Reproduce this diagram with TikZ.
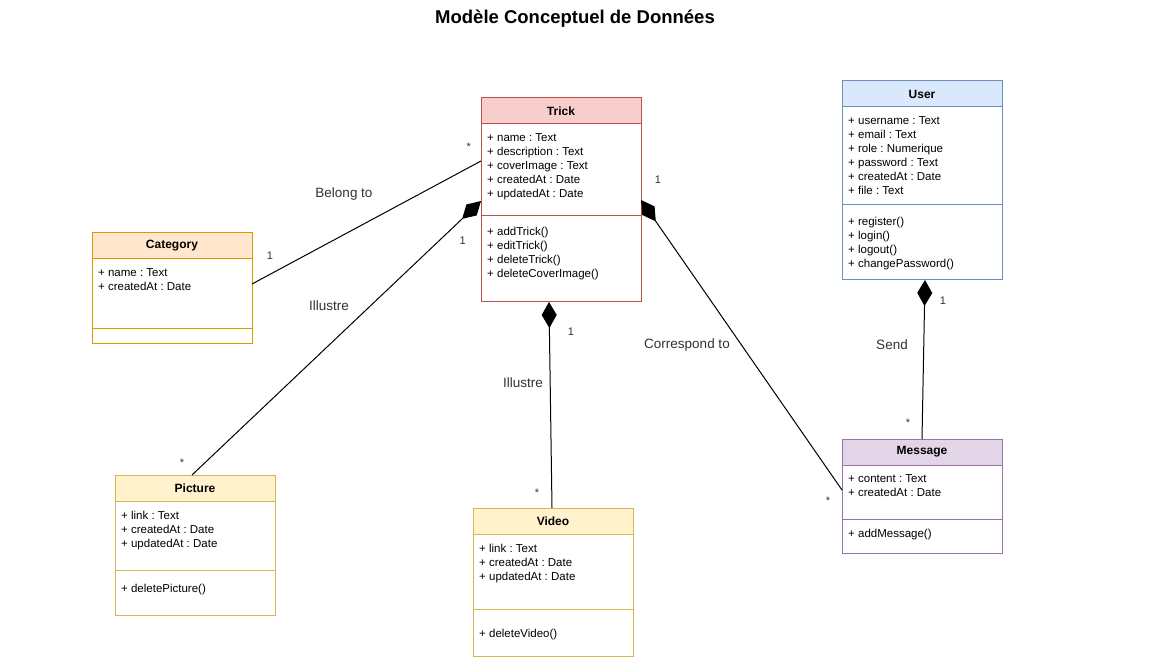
\documentclass[tikz,border=0pt]{standalone}
\usepackage{fontspec}
\setmainfont{Liberation Sans}
\usetikzlibrary{arrows.meta,calc}
\frenchspacing
\definecolor{trickF}{HTML}{F8CECC}\definecolor{trickD}{HTML}{B85450}
\definecolor{userF}{HTML}{DAE8FC}\definecolor{userD}{HTML}{6C8EBF}
\definecolor{catF}{HTML}{FFE6CC}\definecolor{catD}{HTML}{D79B00}
\definecolor{yelF}{HTML}{FFF2CC}\definecolor{yelD}{HTML}{D6B656}
\definecolor{msgF}{HTML}{E1D5E7}\definecolor{msgD}{HTML}{9673A6}
\definecolor{lblC}{HTML}{333333}
\tikzset{
  lbl/.style={font=\fontsize{13.5}{16}\selectfont, text=lblC, inner sep=0},
  mult/.style={font=\fontsize{11}{13}\selectfont, text=lblC, inner sep=0},
  hdr/.style={font=\bfseries\fontsize{12}{14}\selectfont, inner sep=0},
  attr/.style={font=\fontsize{11.5}{14}\selectfont, align=left, anchor=north west, inner sep=0},
  rel/.style={line width=1pt, draw=black},
  comp/.style={rel, {Diamond[length=26pt,width=15pt]}-},
  titlestyle/.style={font=\bfseries\fontsize{18.5}{22}\selectfont, inner sep=0},
}
% #1 name, #2 x, #3 y, #4 height, #5 divider offset, #6 colour, #7 title, #8 attributes
\newcommand{\umlclass}[8]{%
  \node[anchor=north west, minimum width=160pt, minimum height=#4pt, inner sep=0, outer sep=0] (#1) at (#2,#3) {};
  \fill[#6F] (#2,#3) rectangle (#2+160,#3+26);
  \draw[#6D, line width=1pt] (#2,#3+26) -- (#2+160,#3+26);
  \draw[#6D, line width=1pt] (#2,#3+#5) -- (#2+160,#3+#5);
  \draw[#6D, line width=1pt] (#2,#3) rectangle (#2+160,#3+#4);
  \node[hdr] (#1-t) at (#2+80,#3+13) {#7};
  \node[attr] (#1-a) at (#2+6,#3+35.5) {#8};
}
\begin{document}
\frenchspacing
\begin{tikzpicture}[x=1pt,y=-1pt]
\path[use as bounding box, fill=white] (0,0) rectangle (1151,660);
\node[titlestyle] (title) at (575,19) {Modèle Conceptuel de Données};

\umlclass{trick}{481}{98}{204}{117.5}{trick}{Trick}{+ name : Text\\+ description : Text\\+ coverImage : Text\\+ createdAt : Date\\+ updatedAt : Date}
\node[attr] (trick-m) at (487,227) {+ addTrick()\\+ editTrick()\\+ deleteTrick()\\+ deleteCoverImage()};

\umlclass{user}{842}{81}{199}{124}{user}{User}{+ username : Text\\+ email : Text\\+ role : Numerique\\+ password : Text\\+ createdAt : Date\\+ file : Text}
\node[attr] (user-m) at (848,216.7) {+ register()\\+ login()\\+ logout()\\+ changePassword()};

\umlclass{cat}{92}{233}{110}{95.7}{cat}{Category}{+ name : Text\\+ createdAt : Date}

\umlclass{pic}{115}{475}{140}{95.7}{yel}{Picture}{+ link : Text\\+ createdAt : Date\\+ updatedAt : Date}
\node[attr] (pic-m) at (121,584) {+ deletePicture()};

\umlclass{vid}{473}{508}{148}{101}{yel}{Video}{+ link : Text\\+ createdAt : Date\\+ updatedAt : Date}
\node[attr] (vid-m) at (479,629) {+ deleteVideo()};

\umlclass{msg}{842}{439}{114}{80}{msg}{Message}{+ content : Text\\+ createdAt : Date}
\node[attr] (msg-m) at (848,529) {+ addMessage()};

% connectors
\draw[rel] ($(cat.north east)+(0,51)$) -- ($(trick.north west)+(0,63)$);
\draw[comp] ($(trick.north west)+(0,103)$) -- ($(pic.north)+(-3,0)$);
\draw[comp] ($(trick.south)+(-12,0)$) -- ($(vid.north)+(-1,0)$);
\draw[comp] ($(trick.north east)+(0,102)$) -- ($(msg.north west)+(0,51)$);
\draw[comp] ($(user.south)+(3,0)$) -- (msg.north);

% labels
\node[lbl] (l1) at (344,194) {Belong to};
\node[mult] (m1a) at (468.7,147) {*};
\node[mult] (m1b) at (270,256) {1};
\node[lbl] (l2) at (329,306) {Illustre};
\node[mult] (m2a) at (462.7,241) {1};
\node[mult] (m2b) at (182,463) {*};
\node[lbl] (l3) at (523,383) {Illustre};
\node[mult] (m3a) at (571,332) {1};
\node[mult] (m3b) at (537,493) {*};
\node[lbl] (l4) at (687,345) {Correspond to};
\node[mult] (m4a) at (658,180) {1};
\node[mult] (m4b) at (828,501) {*};
\node[lbl] (l5) at (892,345) {Send};
\node[mult] (m5a) at (943,301) {1};
\node[mult] (m5b) at (908,423) {*};
\end{tikzpicture}
\end{document}
